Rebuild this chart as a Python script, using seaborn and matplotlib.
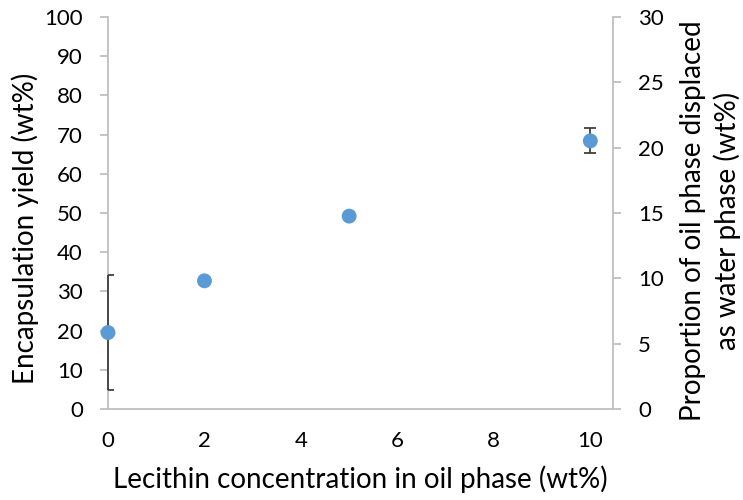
import matplotlib
matplotlib.use("Agg")
import matplotlib.pyplot as plt
import seaborn as sns
import pandas as pd

# Data
lecithin = [0, 2, 5, 10]
yield_vals = [19.5, 32.7, 49.2, 68.4]
err_low = [14.7, 0.5, 0.5, 3.0]
err_high = [14.7, 0.5, 0.5, 3.3]
x_ticks = [0, 2, 4, 6, 8, 10]
y_left_ticks = list(range(0, 101, 10))
y_right_ticks = list(range(0, 31, 5))

sns.set_theme(style="white")
plt.rcParams['font.family'] = ['Lato', 'DejaVu Sans']

df = pd.DataFrame({"x": lecithin, "y": yield_vals})

fig = plt.figure(figsize=(7.43, 5.0), dpi=100)
ax = fig.add_axes([108/743, (500-409)/500, (613-108)/743, (409-17)/500])

grey = "#bfbfbf"
_, caps, bars = ax.errorbar(lecithin, yield_vals, yerr=[err_low, err_high], fmt="none",
                            ecolor="#404040", elinewidth=1.3, capsize=4, capthick=1.3,
                            zorder=2.7)
for b in bars:
    b.set_clip_on(False)
sns.scatterplot(data=df, x="x", y="y", ax=ax, color="#5b9bd5", s=115,
                edgecolor="none", zorder=3, clip_on=False, legend=False)

ax.set_xlim(0, 10.47)
ax.set_ylim(0, 100)
ax.set_xticks(x_ticks)
ax.set_yticks(y_left_ticks)
ax.set_xlabel("Lecithin concentration in oil phase (wt%)", fontsize=20, color="#000000", labelpad=10)
ax.set_ylabel("Encapsulation yield (wt%)", fontsize=20, color="#000000", labelpad=4)
ax.yaxis.label.set_y(0.46)

ax2 = ax.twinx()
ax2.set_ylim(0, 30)
ax2.set_yticks(y_right_ticks)
ax2.set_ylabel("Proportion of oil phase displaced\nas water phase (wt%)", fontsize=20,
               color="#000000", labelpad=12, linespacing=1.3)
ax2.yaxis.label.set_y(0.48)

for a in (ax, ax2):
    a.spines["top"].set_visible(False)
    for side in ("left", "bottom", "right"):
        a.spines[side].set_color(grey)
        a.spines[side].set_linewidth(1.3)
    a.tick_params(axis="both", which="major", direction="out", length=6, width=1.3,
                  color=grey, labelsize=16, labelcolor="#000000", pad=12)
    a.grid(False)
ax.tick_params(axis="x", pad=10)
ax.spines["right"].set_visible(False)
ax2.spines["left"].set_visible(False)
ax2.spines["bottom"].set_visible(False)

fig.savefig("out.png", dpi=100, facecolor="white")
